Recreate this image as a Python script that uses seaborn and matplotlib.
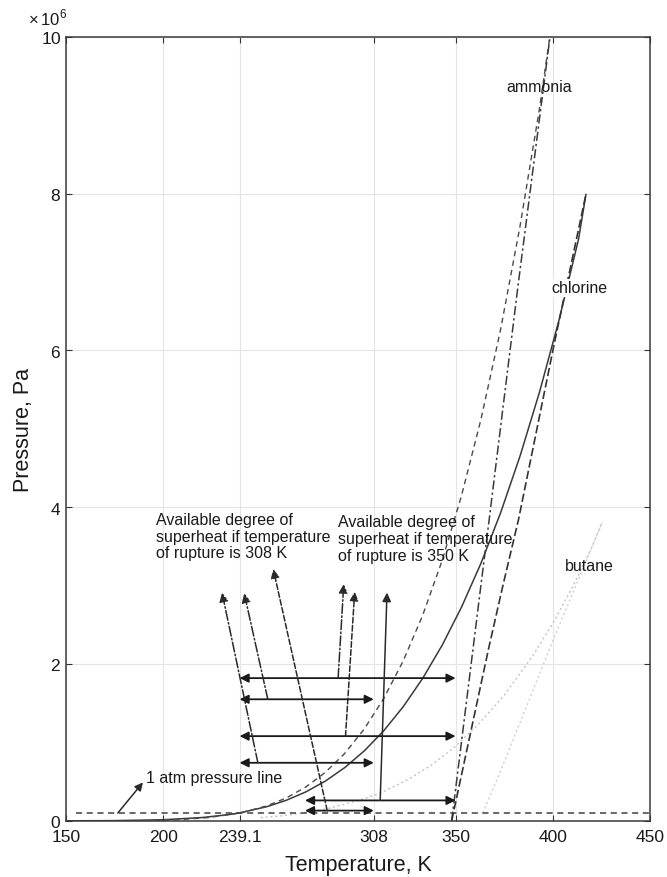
import matplotlib
matplotlib.use("Agg")
import matplotlib.pyplot as plt
import seaborn as sns
from matplotlib.ticker import ScalarFormatter, FixedLocator, FixedFormatter

# ---------------- data ----------------
x_ticks = [150, 200, 239.1, 308, 350, 400, 450]
x_tick_labels = ["150", "200", "239.1", "308", "350", "400", "450"]
y_ticks = [0, 2e6, 4e6, 6e6, 8e6, 10e6]

chlorine_T = [150, 175, 200, 220, 233.15, 239.1, 253.15, 263.15, 273.15, 283.15,
              293.15, 303.15, 313.15, 323.15, 333.15, 343.15, 353.15, 363.15,
              373.15, 383.15, 393.15, 403.15, 413.15, 416.95]
chlorine_P = [200, 2400, 13600, 42000, 77700, 101300, 180400, 262300, 369000, 506600,
              679700, 892100, 1149000, 1456000, 1818000, 2241000, 2730000, 3291000,
              3930000, 4655000, 5472000, 6389000, 7419000, 7991000]

ammonia_T = [195.5, 210, 223, 239.8, 253, 263, 273, 283, 293, 303, 313, 323, 333,
             343, 353, 363, 373, 383, 393, 399]
ammonia_P = [6100, 18000, 41000, 101300, 190000, 290000, 429000, 615000, 857000,
             1167000, 1555000, 2033000, 2614000, 3312000, 4142000, 5116000, 6250000,
             7570000, 9070000, 10100000]

butane_T = [250, 260, 272.7, 285, 300, 312, 325, 337, 350, 362, 375, 390, 400, 410,
            420, 425.1]
butane_P = [41000, 62000, 101300, 160000, 257000, 360000, 520000, 700000, 950000,
            1240000, 1600000, 2120000, 2520000, 2980000, 3490000, 3796000]

ammonia_limit_T = [348, 363, 367.3, 382, 399]
ammonia_limit_P = [0, 3000000, 3850000, 6810000, 10100000]

chlorine_limit_T = [348, 367, 374.3, 382.3, 400.3, 416.95]
chlorine_limit_P = [0, 2200000, 3000000, 3840000, 6040000, 7991000]

butane_limit_T = [364, 373.5, 400, 425.1]
butane_limit_P = [100000, 660000, 2300000, 3796000]

atm_T = [155, 450]
atm_P = [101325, 101325]

# double-headed arrows: (T_left, T_right, P)
superheat_T_left = [239.1, 239.1, 239.1, 239.1, 272.7, 272.7]
superheat_T_right = [350, 308, 350, 308, 350, 308]
superheat_P = [1.82e6, 1.55e6, 1.08e6, 0.74e6, 0.26e6, 0.13e6]

# pointer arrows: start (T, P) -> end (T, P)
ptr_T0 = [248.5, 253.6, 284.1, 289.7, 293.5, 311.3]
ptr_P0 = [0.74e6, 1.55e6, 0.13e6, 1.82e6, 1.08e6, 0.26e6]
ptr_T1 = [230.1, 241.5, 256.4, 292.6, 298.2, 314.8]
ptr_P1 = [2.91e6, 2.90e6, 3.21e6, 3.02e6, 2.92e6, 2.91e6]
ptr_styles = ["-.", "-.", "--", "-.", "--", "-"]

# ---------------- style ----------------
sns.set_theme(style="ticks")
plt.rcParams["font.family"] = ["Liberation Sans", "DejaVu Sans"]
plt.rcParams["mathtext.fontset"] = "custom"
plt.rcParams["mathtext.rm"] = "Liberation Sans"

fig = plt.figure(figsize=(6.67, 8.78), dpi=100)
ax = fig.add_axes([0.099, 0.064, 0.876, 0.893])

# ---------------- curves ----------------
sns.lineplot(x=chlorine_T, y=chlorine_P, ax=ax, color="#3a3a3a", lw=1.1,
             sort=False, estimator=None)
sns.lineplot(x=ammonia_T, y=ammonia_P, ax=ax, color="#4a4a4a", lw=1.0,
             linestyle=(0, (4, 3)), sort=False, estimator=None)
sns.lineplot(x=ammonia_limit_T, y=ammonia_limit_P, ax=ax, color="#3a3a3a", lw=1.1,
             linestyle=(0, (6, 2, 1.5, 2)), sort=False, estimator=None)
sns.lineplot(x=chlorine_limit_T, y=chlorine_limit_P, ax=ax, color="#333333", lw=1.2,
             linestyle=(0, (5, 2)), sort=False, estimator=None)
sns.lineplot(x=butane_T, y=butane_P, ax=ax, color="#c4c4c4", lw=1.0,
             linestyle=(0, (1.5, 2)), sort=False, estimator=None)
sns.lineplot(x=butane_limit_T, y=butane_limit_P, ax=ax, color="#d0d0d0", lw=1.0,
             linestyle=(0, (1.5, 2)), sort=False, estimator=None)
sns.lineplot(x=atm_T, y=atm_P, ax=ax, color="#404040", lw=1.1,
             linestyle=(0, (4, 3)), sort=False, estimator=None)

# ---------------- arrows ----------------
for tl, tr, p in zip(superheat_T_left, superheat_T_right, superheat_P):
    ax.annotate("", xy=(tr, p), xytext=(tl, p),
                arrowprops=dict(arrowstyle="<|-|>", color="#1a1a1a", lw=1.3,
                                mutation_scale=13, shrinkA=0, shrinkB=0))

for t0, p0, t1, p1, ls in zip(ptr_T0, ptr_P0, ptr_T1, ptr_P1, ptr_styles):
    ax.annotate("", xy=(t1, p1), xytext=(t0, p0),
                arrowprops=dict(arrowstyle="-|>", color="#2a2a2a", lw=1.1,
                                linestyle=ls, mutation_scale=13,
                                shrinkA=0, shrinkB=0))

ax.annotate("", xy=(189.5, 0.49e6), xytext=(176.6, 0.10e6),
            arrowprops=dict(arrowstyle="-|>", color="#2a2a2a", lw=1.1,
                            mutation_scale=12, shrinkA=0, shrinkB=0))

# ---------------- text ----------------
txt_kw = dict(fontsize=11.5, color="#1a1a1a")
ax.text(196, 3.63e6,
        "Available degree of\nsuperheat if temperature\nof rupture is 308 K",
        ha="left", va="center", linespacing=1.15, **txt_kw)
ax.text(289.6, 3.60e6,
        "Available degree of\nsuperheat if temperature\nof rupture is 350 K",
        ha="left", va="center", linespacing=1.15, **txt_kw)
ax.text(191, 0.55e6, "1 atm pressure line", ha="left", va="center", **txt_kw)
ax.text(393, 9.36e6, "ammonia", ha="center", va="center", **txt_kw)
ax.text(413.8, 6.80e6, "chlorine", ha="center", va="center",
        bbox=dict(facecolor="white", edgecolor="none", pad=1.0), **txt_kw)
ax.text(418.6, 3.26e6, "butane", ha="center", va="center", **txt_kw)

# ---------------- axes ----------------
ax.set_xlim(150, 450)
ax.set_ylim(0, 10e6)
ax.xaxis.set_major_locator(FixedLocator(x_ticks))
ax.xaxis.set_major_formatter(FixedFormatter(x_tick_labels))
ax.yaxis.set_major_locator(FixedLocator(y_ticks))
fmt = ScalarFormatter(useMathText=True)
fmt.set_powerlimits((6, 6))
ax.yaxis.set_major_formatter(fmt)
ax.yaxis.get_offset_text().set_visible(False)
ax.text(-0.065, 1.012, r"$\times\,10^{6}$", transform=ax.transAxes,
        ha="left", va="bottom", fontsize=12, color="#1a1a1a")

ax.grid(True, color="#e4e4e4", lw=0.8)
ax.tick_params(direction="in", top=True, right=True, length=4, width=0.8,
               labelsize=12.5, colors="#333333", labelcolor="#1a1a1a")
ax.tick_params(axis="x", pad=6)
for s in ax.spines.values():
    s.set_color("#3a3a3a")
    s.set_linewidth(1.1)

ax.set_xlabel("Temperature, K", fontsize=15.5, color="#1a1a1a", labelpad=7)
ax.set_ylabel("Pressure, Pa", fontsize=15.5, color="#1a1a1a", labelpad=5)

fig.savefig("out.png", dpi=100)
